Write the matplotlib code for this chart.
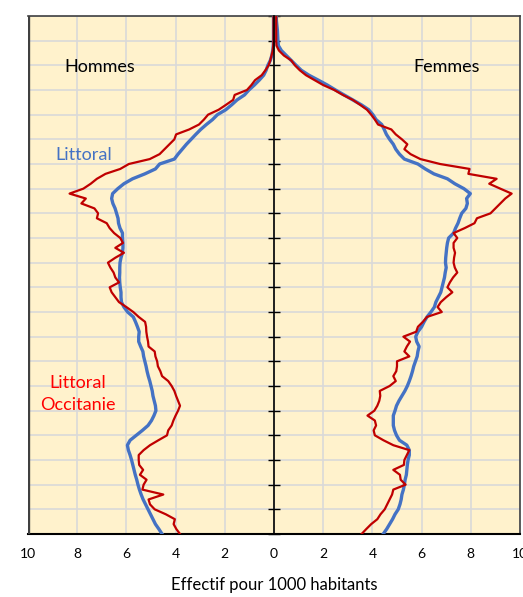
import matplotlib.pyplot as plt
import numpy as np

# Effectifs pour 1000 habitants, par age (0 a 105 ans)
ages = np.arange(0, 106)

hommes_littoral = [
    4.55, 4.68, 4.82, 4.92, 5.02, 5.12, 5.22, 5.32, 5.40, 5.47,
    5.53, 5.58, 5.64, 5.69, 5.74, 5.79, 5.85, 5.92, 5.96, 5.85,
    5.60, 5.35, 5.12, 4.98, 4.88, 4.80, 4.82, 4.87, 4.92, 4.95,
    5.00, 5.05, 5.11, 5.16, 5.20, 5.25, 5.30, 5.33, 5.42, 5.50,
    5.50, 5.48, 5.55, 5.63, 5.72, 5.95, 6.10, 6.20, 6.22, 6.22,
    6.25, 6.27, 6.28, 6.27, 6.27, 6.26, 6.22, 6.16, 6.14, 6.14,
    6.16, 6.16, 6.26, 6.32, 6.34, 6.40, 6.46, 6.55, 6.60, 6.56,
    6.35, 6.10, 5.75, 5.25, 4.82, 4.65, 4.05, 3.90, 3.73, 3.56,
    3.37, 3.18, 2.98, 2.75, 2.50, 2.30, 1.96, 1.72, 1.50, 1.20,
    1.02, 0.80, 0.60, 0.42, 0.32, 0.25, 0.15, 0.09, 0.05, 0.03,
    0.02, 0.02, 0.02, 0.02, 0.02, 0.02]

hommes_occitanie = [
    3.82, 3.97, 4.08, 4.03, 4.40, 4.85, 5.04, 5.10, 4.50, 5.35,
    5.30, 5.18, 5.45, 5.32, 5.48, 5.50, 5.50, 5.30, 5.04, 4.70,
    4.35, 4.30, 4.16, 4.09, 4.00, 3.90, 3.82, 3.90, 3.98, 4.05,
    4.16, 4.30, 4.55, 4.62, 4.72, 4.75, 4.82, 4.85, 5.10, 5.12,
    5.16, 5.19, 5.20, 5.24, 5.50, 5.72, 6.00, 6.30, 6.45, 6.60,
    6.68, 6.30, 6.45, 6.52, 6.65, 6.75, 6.45, 6.10, 6.45, 6.14,
    6.25, 6.50, 6.68, 6.80, 7.20, 7.15, 7.30, 7.83, 7.65, 8.31,
    7.75, 7.45, 7.20, 6.85, 6.25, 5.90, 5.05, 4.65, 4.45, 4.25,
    4.05, 3.98, 3.45, 3.05, 2.85, 2.68, 2.25, 1.95, 1.66, 1.60,
    1.10, 0.92, 0.77, 0.50, 0.35, 0.22, 0.15, 0.10, 0.05, 0.03,
    0.02, 0.02, 0.02, 0.02, 0.02, 0.02]

femmes_littoral = [
    4.44, 4.58, 4.70, 4.82, 4.92, 5.05, 5.12, 5.17, 5.20, 5.26,
    5.30, 5.33, 5.38, 5.40, 5.42, 5.45, 5.50, 5.50, 5.40, 5.10,
    4.98, 4.90, 4.85, 4.85, 4.85, 4.92, 4.98, 5.08, 5.20, 5.32,
    5.42, 5.50, 5.57, 5.63, 5.68, 5.75, 5.82, 5.85, 5.90, 5.80,
    5.76, 5.85, 6.00, 6.10, 6.22, 6.38, 6.52, 6.58, 6.68, 6.78,
    6.83, 6.88, 6.93, 6.96, 7.00, 6.97, 6.98, 7.00, 7.02, 7.05,
    7.10, 7.30, 7.38, 7.48, 7.55, 7.63, 7.80, 7.86, 7.83, 7.98,
    7.72, 7.35, 7.05, 6.50, 6.15, 5.85, 5.30, 5.10, 4.95, 4.85,
    4.70, 4.57, 4.48, 4.38, 4.15, 4.02, 3.85, 3.55, 3.20, 2.85,
    2.50, 2.17, 1.80, 1.42, 1.11, 0.90, 0.70, 0.50, 0.30, 0.18,
    0.16, 0.15, 0.14, 0.12, 0.10, 0.09]

femmes_occitanie = [
    3.56, 3.75, 3.95, 4.20, 4.33, 4.50, 4.60, 4.70, 4.80, 4.85,
    5.35, 5.15, 5.12, 4.85, 5.28, 5.30, 5.40, 5.50, 4.85, 4.45,
    4.10, 4.05, 4.15, 4.10, 3.80, 4.08, 4.20, 4.28, 4.32, 4.30,
    4.70, 4.95, 4.85, 4.97, 5.00, 5.00, 5.50, 5.30, 5.40, 5.53,
    5.26, 5.78, 5.85, 6.05, 6.22, 6.82, 6.65, 6.78, 7.00, 7.25,
    7.05, 7.15, 7.28, 7.45, 7.35, 7.30, 7.32, 7.36, 7.30, 7.30,
    7.45, 7.30, 7.75, 8.15, 8.25, 8.80, 9.00, 9.20, 9.40, 9.66,
    9.20, 8.75, 9.05, 7.90, 7.95, 6.75, 5.95, 5.55, 5.30, 5.42,
    5.20, 4.95, 4.77, 4.23, 4.10, 3.95, 3.78, 3.50, 3.20, 2.80,
    2.45, 2.00, 1.65, 1.30, 1.05, 0.85, 0.70, 0.40, 0.20, 0.10,
    0.09, 0.09, 0.09, 0.09, 0.09, 0.09]

x_ticks = np.arange(-10, 11, 2)
x_labels = [str(abs(t)) for t in x_ticks]

bleu = "#4472C4"
rouge = "#C00000"

plt.rcParams['font.family'] = ['Lato', 'DejaVu Sans']

fig = plt.figure(figsize=(5.23, 5.97), dpi=100)
ax = fig.add_axes([28/523, 63/597, 492/523, 518/597])
ax.set_facecolor("#FFF2CC")

# hommes a gauche (valeurs negatives), femmes a droite
ax.plot(-np.array(hommes_littoral), ages, color=bleu, lw=2.4, zorder=3)
ax.plot(np.array(femmes_littoral), ages, color=bleu, lw=2.4, zorder=3)
ax.plot(-np.array(hommes_occitanie), ages, color=rouge, lw=1.6, zorder=4)
ax.plot(np.array(femmes_occitanie), ages, color=rouge, lw=1.6, zorder=4)

ax.set_xlim(-10, 10)
ax.set_ylim(0, 105)
ax.set_xticks(x_ticks)
ax.set_xticklabels(x_labels, fontsize=10)
ax.set_yticks(np.arange(0, 106, 5))
ax.tick_params(axis='x', length=0, pad=10)
ax.tick_params(axis='y', direction='inout', length=9, width=1, labelleft=False)
ax.grid(True, color="#D9D9D9", lw=1.2, zorder=0)
ax.set_axisbelow(True)

# axe vertical au centre, cadre gris autour
ax.spines['left'].set_position(('data', 0))
ax.spines['left'].set_color('black')
ax.spines['left'].set_linewidth(1.2)
ax.spines['left'].set_zorder(5)
for s in ['top', 'right']:
    ax.spines[s].set_color('#404040')
    ax.spines[s].set_linewidth(1.2)
ax.spines['bottom'].set_color('black')
ax.spines['bottom'].set_linewidth(1.5)
ax.axvline(-10, color='#404040', lw=2.4, zorder=5)

ax.set_xlabel("Effectif pour 1000 habitants", fontsize=12, labelpad=12)

ax.text(-7.07, 94.6, "Hommes", fontsize=13, ha='center', va='center')
ax.text(7.0, 94.6, "Femmes", fontsize=13, ha='center', va='center')
ax.text(-7.72, 76.8, "Littoral", fontsize=13, color=bleu, ha='center', va='center')
ax.text(-7.97, 28.4, "Littoral\nOccitanie", fontsize=13, color='red',
        ha='center', va='center', linespacing=1.5)

fig.savefig("out.png", dpi=100)
